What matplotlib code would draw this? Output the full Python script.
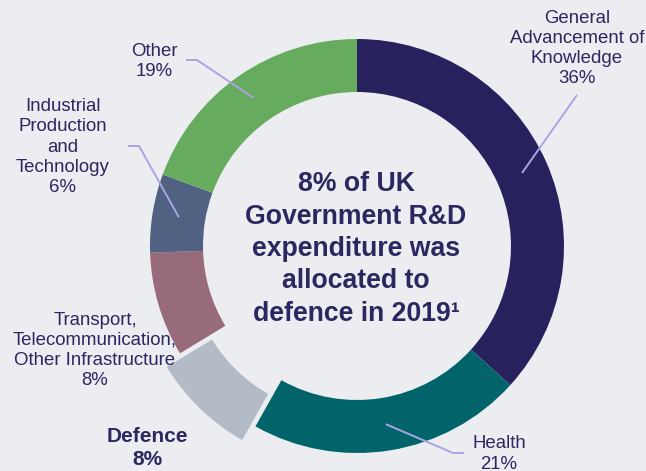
import numpy as np
import matplotlib
matplotlib.use("Agg")
import matplotlib.pyplot as plt

# UK Government R&D expenditure by socio-economic objective, 2019
categories = ["General\nAdvancement of\nKnowledge", "Health", "Defence",
              "Transport,\nTelecommunication,\nOther Infrastructure",
              "Industrial\nProduction\nand\nTechnology", "Other"]
shares = [36, 21, 8, 8, 6, 19]
highlight = "Defence"
colors = ["#27225e", "#01646b", "#b3bcc6", "#986b7c", "#516181", "#67ab5f"]

BG = "#ecedf1"
TEXT = "#2b2761"
LEADER = "#aaa4e2"

W, H = 646, 471
fig = plt.figure(figsize=(W / 100, H / 100), dpi=100, facecolor=BG)
ax = fig.add_axes([0, 0, 1, 1])
ax.set_facecolor(BG)

cx, cy = 357, 225
r_out, width = 207, 53
# pull the highlighted slice outward (offset in data units)
explode = [19 if c == highlight else 0 for c in categories]

wedges, _ = ax.pie(shares, colors=colors, startangle=90, counterclock=False,
                   radius=r_out, center=(cx, cy), explode=explode,
                   wedgeprops=dict(width=width, linewidth=0, antialiased=True),
                   frame=True)
ax.set_xlim(0, W)
ax.set_ylim(0, H)
ax.set_aspect("equal")
ax.axis("off")

# mid-ring anchor point of each wedge for the leader lines
r_mid = r_out - width / 2
anchors = []
for w in wedges:
    a = np.deg2rad((w.theta1 + w.theta2) / 2)
    anchors.append((cx + r_mid * np.cos(a), cy + r_mid * np.sin(a)))

fs = 13.4
label_font = dict(family="Liberation Sans", color=TEXT, ha="center", va="center",
                  linespacing=1.25)

# label positions and leader elbows
label_pos = {
    0: (577, 422.5),
    1: (499, 17),
    2: (147, 23),
    3: (95, 120.5),
    4: (63, 324),
    5: (154, 409.5),
}
leader_path = {
    0: [(577, 376)],
    1: [(453, 18), (464, 18)],
    4: [(139, 325), (128, 325)],
    5: [(197, 411), (186, 411)],
}

for i, (name, val) in enumerate(zip(categories, shares)):
    x, y = label_pos[i]
    if name == highlight:
        ax.text(x, y, f"{name}\n{val}%", fontsize=15, fontweight="bold",
                **{**label_font, "linespacing": 1.25})
    else:
        ax.text(x, y, f"{name}\n{val}%", fontsize=fs, **label_font)
    if i in leader_path:
        pts = [anchors[i]] + leader_path[i]
        xs, ys = zip(*pts)
        ax.plot(xs, ys, color=LEADER, lw=1.4, solid_capstyle="butt", zorder=5)

ax.text(356, 222, "8% of UK\nGovernment R&D\nexpenditure was\nallocated to\ndefence in 2019¹",
        family="Liberation Sans", fontsize=19.2, fontweight="bold", color=TEXT,
        ha="center", va="center", linespacing=1.32)

fig.savefig("out.png", dpi=100, facecolor=BG)
